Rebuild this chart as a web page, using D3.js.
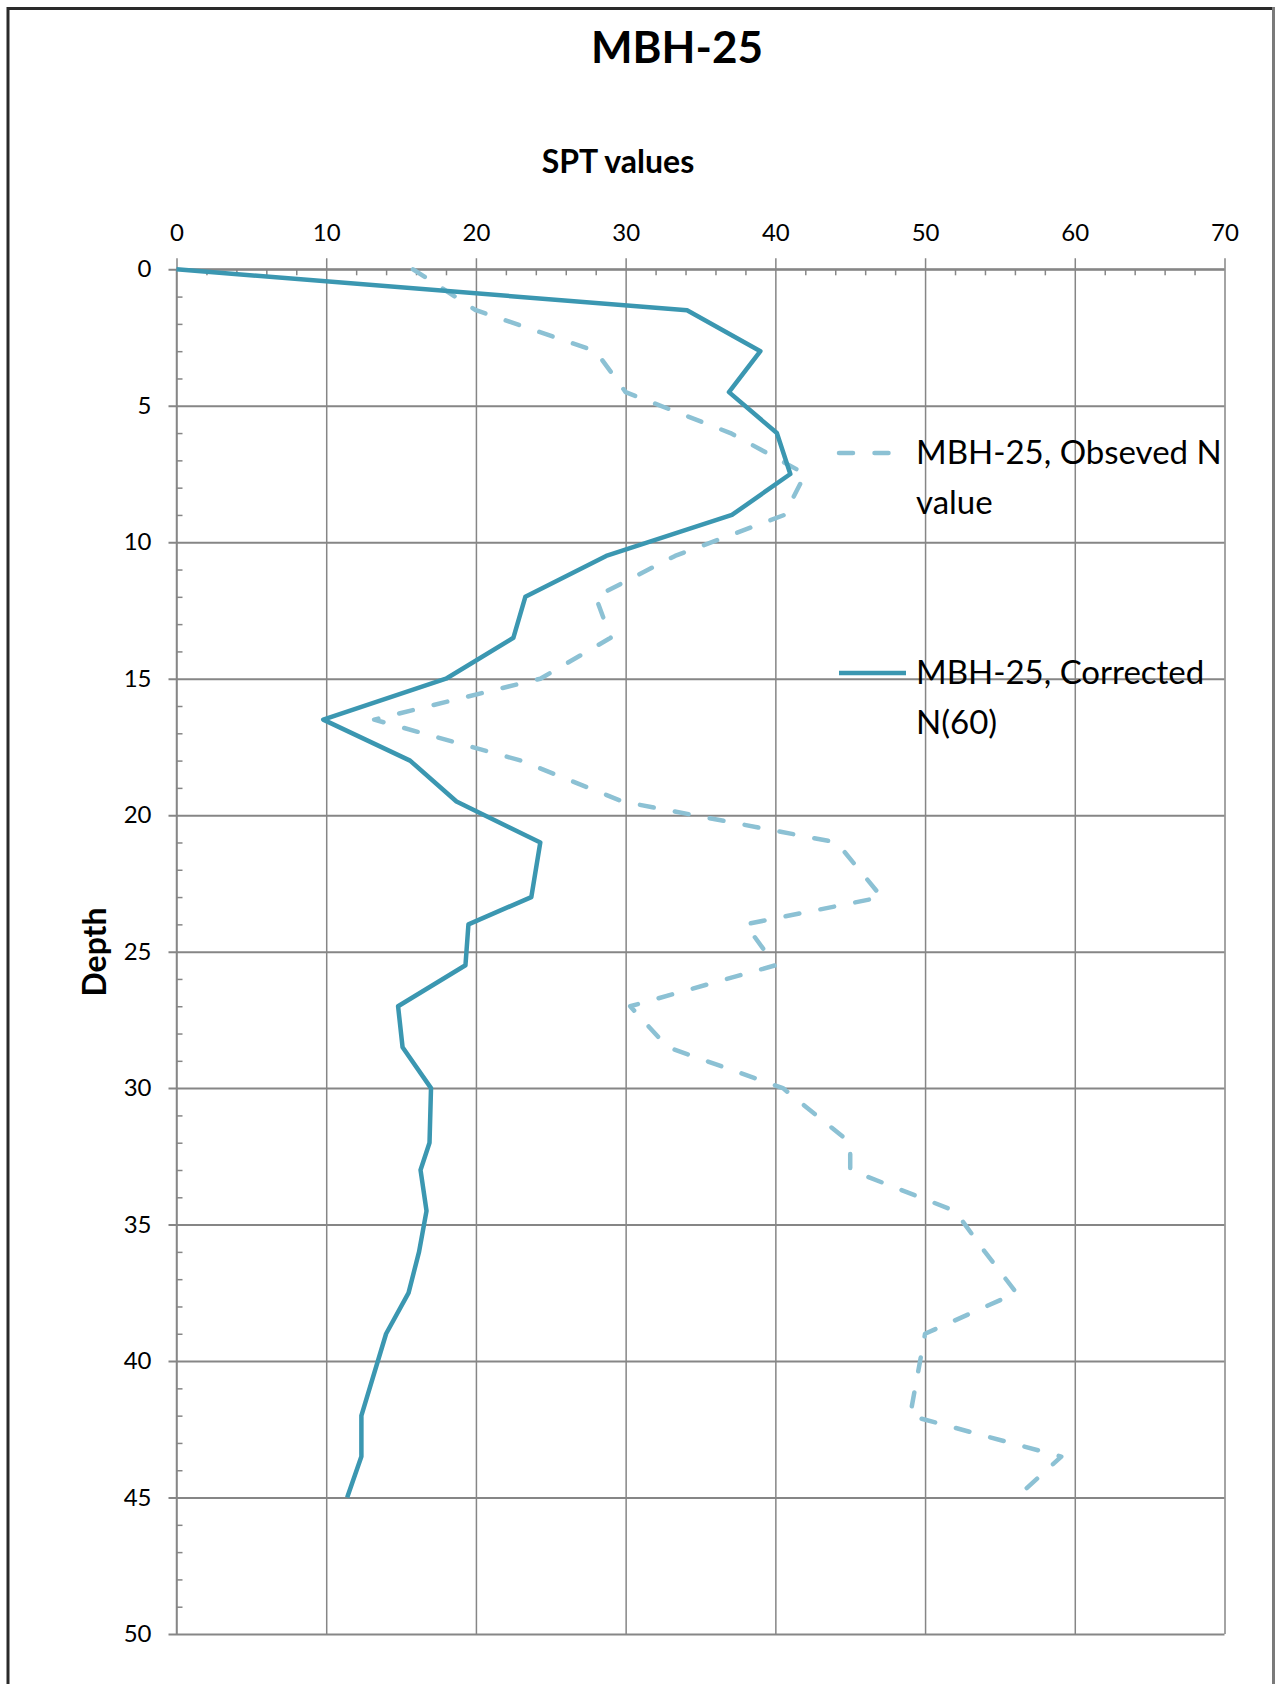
<!DOCTYPE html>
<html>
<head>
<meta charset="utf-8">
<script src="https://cdn.jsdelivr.net/npm/d3@7"></script>
<style>
  body { margin: 0; background: #fff; }
  text { font-family: Lato, "Open Sans", sans-serif; fill: #000; }
  .grid line { stroke: #868686; stroke-width: 1.5; }
  .grid.h line { stroke-width: 2; }
  .grid path { display: none; }
</style>
</head>
<body>
<div id="chart"></div>
<script>
// depth of each SPT test (m) and the two N series
var depths = [0, 1.5, 3, 4.5, 6, 7.5, 9, 10.5, 12, 13.5, 15, 16.5, 18, 19.5, 21, 23, 24, 25.5, 27, 28.5, 30, 32, 33, 34.5, 36, 37.5, 39, 42, 43.5, 45];
var observedN = [15.8, 20, 28, 30, 37, 42, 40.6, 33.3, 28, 29, 24.3, 13.2, 23, 29.8, 44.1, 47.1, 38, 40, 30.3, 32.8, 40.5, 45, 45, 52, 54, 56.1, 50, 49, 59.1, 56.1];
var correctedN = [0, 34.1, 39, 36.9, 40.1, 41, 37.1, 28.7, 23.3, 22.5, 18, 9.8, 15.6, 18.7, 24.3, 23.7, 19.5, 19.3, 14.8, 15.1, 17, 16.9, 16.3, 16.7, 16.2, 15.5, 14, 12.35, 12.35, 11.4];

var xTicks = [0, 10, 20, 30, 40, 50, 60, 70];
var yTicks = [0, 5, 10, 15, 20, 25, 30, 35, 40, 45, 50];
var seriesNames = [["MBH-25, Obseved N", "value"], ["MBH-25, Corrected", "N(60)"]];

var svgWidth = 1276;
var svgHeight = 1684;
var plot = { left: 176.5, top: 269.3, right: 1224.5, bottom: 1634 };

var svg = d3.select("#chart")
    .append("svg")
    .attr("width", svgWidth)
    .attr("height", svgHeight);

svg.append("rect").attr("width", svgWidth).attr("height", svgHeight).attr("fill", "#fff");

// outer frame
svg.append("path")
    .attr("d", "M8,1700 V8.5 H1273")
    .attr("fill", "none")
    .attr("stroke", "#2a2a2a")
    .attr("stroke-width", 3);
svg.append("line")
    .attr("x1", 1273.5).attr("x2", 1273.5).attr("y1", 7).attr("y2", 1700)
    .attr("stroke", "#7a7a7a")
    .attr("stroke-width", 3);

var x = d3.scaleLinear().domain([0, 70]).range([plot.left, plot.right]);
var y = d3.scaleLinear().domain([0, 50]).range([plot.top, plot.bottom]);
var plotW = plot.right - plot.left;
var plotH = plot.bottom - plot.top;

var minorX = d3.range(0, 71, 2).filter(d => d % 10 != 0);
var minorY = d3.range(0, 51, 1).filter(d => d % 5 != 0);

// gridlines, with the major ticks sticking out of the plot
svg.append("g").attr("class", "grid")
    .attr("transform", `translate(0,${plot.top})`)
    .call(d3.axisTop(x).tickValues(xTicks).tickSizeInner(-plotH).tickSizeOuter(0).tickFormat(""))
    .selectAll("line").attr("y1", -11);

svg.append("g").attr("class", "grid h")
    .attr("transform", `translate(${plot.left},0)`)
    .call(d3.axisLeft(y).tickValues(yTicks).tickSizeInner(-plotW).tickSizeOuter(0).tickFormat(""))
    .selectAll("line").attr("x1", -8);

// minor ticks pointing inward
svg.append("g").attr("class", "grid")
    .attr("transform", `translate(0,${plot.top})`)
    .call(d3.axisTop(x).tickValues(minorX).tickSize(-6).tickFormat(""));

svg.append("g").attr("class", "grid")
    .attr("transform", `translate(${plot.left},0)`)
    .call(d3.axisLeft(y).tickValues(minorY).tickSize(-6).tickFormat(""));

// tick labels
var xAxis = svg.append("g")
    .attr("transform", `translate(0,${plot.top})`)
    .call(d3.axisTop(x).tickValues(xTicks).tickSize(0).tickPadding(28));
xAxis.select(".domain").remove();
xAxis.selectAll("text").style("font-size", "24px").attr("fill", "#000");

var yAxis = svg.append("g")
    .attr("transform", `translate(${plot.left},0)`)
    .call(d3.axisLeft(y).tickValues(yTicks).tickSize(0).tickPadding(25));
yAxis.select(".domain").remove();
yAxis.selectAll("text").style("font-size", "24px").attr("fill", "#000");

// axis lines
svg.append("line").attr("x1", plot.left).attr("x2", plot.right)
    .attr("y1", plot.top).attr("y2", plot.top)
    .attr("stroke", "#868686").attr("stroke-width", 2);
svg.append("line").attr("x1", plot.left).attr("x2", plot.left)
    .attr("y1", plot.top).attr("y2", plot.bottom)
    .attr("stroke", "#868686").attr("stroke-width", 1.5);

// series
var line = d3.line()
    .x(d => x(d[0]))
    .y(d => y(d[1]));

svg.append("path")
    .datum(d3.zip(observedN, depths))
    .attr("d", line)
    .attr("fill", "none")
    .attr("stroke", "#8cc1d4")
    .attr("stroke-width", 4.5)
    .attr("stroke-linecap", "round")
    .attr("stroke-linejoin", "round")
    .attr("stroke-dasharray", "14,21.5");

svg.append("path")
    .datum(d3.zip(correctedN, depths))
    .attr("d", line)
    .attr("fill", "none")
    .attr("stroke", "#3b97b1")
    .attr("stroke-width", 4.5)
    .attr("stroke-linejoin", "round");

// titles
svg.append("text")
    .attr("x", 677).attr("y", 63)
    .attr("text-anchor", "middle")
    .style("font-size", "44px").style("font-weight", "bold")
    .text("MBH-25");

svg.append("text")
    .attr("x", 618).attr("y", 173)
    .attr("text-anchor", "middle")
    .style("font-size", "32px").style("font-weight", "bold")
    .text("SPT values");

svg.append("text")
    .attr("transform", "translate(106,952) rotate(-90)")
    .attr("text-anchor", "middle")
    .style("font-size", "32px").style("font-weight", "bold")
    .text("Depth");

// legend
var legendY = [453, 673];
var legend = svg.selectAll("g.legend")
    .data(seriesNames)
    .enter()
    .append("g")
    .attr("transform", (d, i) => `translate(0,${legendY[i]})`);

legend.append("line")
    .attr("x1", 839).attr("x2", 906)
    .attr("stroke", (d, i) => i == 0 ? "#8cc1d4" : "#3b97b1")
    .attr("stroke-width", 4.5)
    .attr("stroke-linecap", (d, i) => i == 0 ? "round" : "butt")
    .attr("stroke-dasharray", (d, i) => i == 0 ? "14,21.5" : null);

legend.append("text")
    .attr("x", 916).attr("y", 11)
    .style("font-size", "33px")
    .text(d => d[0]);

legend.append("text")
    .attr("x", 916).attr("y", 61)
    .style("font-size", "33px")
    .text(d => d[1]);
</script>
</body>
</html>
